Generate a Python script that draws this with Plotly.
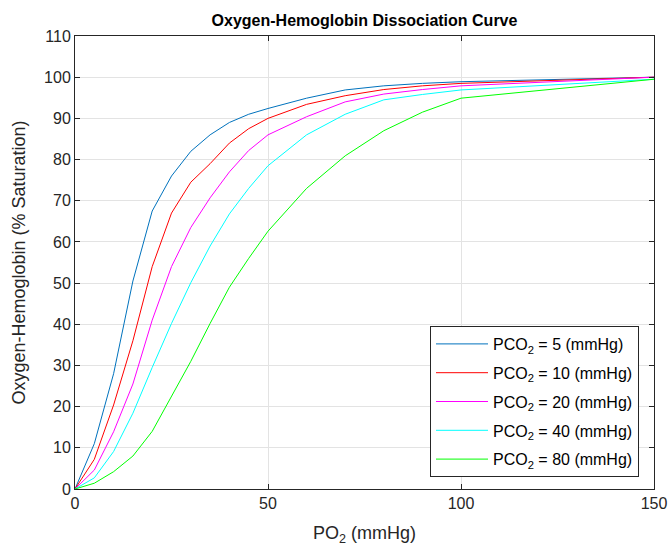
import plotly.graph_objects as go

po2 = [0, 5, 10, 15, 20, 25, 30, 35, 40, 45, 50, 60, 70, 80, 90, 100, 150]

sat_5 = [0, 11, 28, 50.5, 67.5, 76, 82, 86, 89, 91, 92.4, 94.9, 96.9, 97.9, 98.5, 98.9, 100]
sat_10 = [0, 7.2, 20.4, 36, 54, 67, 74.5, 79, 84, 87.5, 90, 93.4, 95.5, 97, 97.9, 98.5, 100]
sat_20 = [0, 4.6, 13.9, 25.5, 41, 54, 63.5, 70.7, 77, 82.2, 86, 90.4, 94, 95.9, 97, 97.9, 100]
sat_40 = [0, 2.7, 9.1, 18.4, 29.5, 40.2, 50.1, 59, 66.8, 73, 78.5, 86, 91, 94.5, 95.8, 96.9, 99.5]
sat_80 = [0, 1.4, 4.2, 8, 14, 22.4, 31, 40.2, 49, 56, 62.6, 73, 80.9, 87, 91.5, 94.9, 99.5]

series = [
    ("PCO<sub>2</sub> = 5 (mmHg)", sat_5, "#0072BD"),
    ("PCO<sub>2</sub> = 10 (mmHg)", sat_10, "#FF0000"),
    ("PCO<sub>2</sub> = 20 (mmHg)", sat_20, "#FF00FF"),
    ("PCO<sub>2</sub> = 40 (mmHg)", sat_40, "#00FFFF"),
    ("PCO<sub>2</sub> = 80 (mmHg)", sat_80, "#00FF00"),
]

x_ticks = [0, 50, 100, 150]
y_ticks = list(range(0, 111, 10))

FONT = "Liberation Sans, Arial"

fig = go.Figure()
for i, (name, vals, col) in enumerate(series):
    fig.add_trace(go.Scatter(x=po2, y=vals, mode="lines", name=name,
                             legendgroup=f"g{i}",
                             line=dict(color=col, width=1)))

axis_common = dict(
    showline=True, linecolor="#262626", linewidth=1, mirror="ticks",
    ticks="inside", ticklen=5, tickcolor="#262626",
    showgrid=True, gridcolor="#e3e3e3", gridwidth=1,
    zeroline=False, automargin=False,
    tickfont=dict(family=FONT, size=16, color="#262626"),
)

fig.update_layout(
    width=669, height=550,
    margin=dict(l=75, r=15, t=36, b=61, autoexpand=False),
    paper_bgcolor="white", plot_bgcolor="white",
    title=dict(text="<b>Oxygen-Hemoglobin Dissociation Curve</b>",
               x=(75 + 654) / 2 / 669, xanchor="center", y=1 - 20 / 550, yanchor="middle",
               font=dict(family=FONT, size=16, color="black"), automargin=False),
    xaxis=dict(range=[0, 150], tickvals=x_ticks,
               title=dict(text="PO<sub>2</sub> (mmHg)", standoff=15,
                          font=dict(family=FONT, size=18, color="#262626")),
               **axis_common),
    yaxis=dict(range=[0, 110], tickvals=y_ticks,
               title=dict(text="Oxygen-Hemoglobin (% Saturation)", standoff=13,
                          font=dict(family=FONT, size=18, color="#262626")),
               **axis_common),
    legend=dict(x=(639 - 75) / 579, xanchor="right", y=(489 - 477) / 453, yanchor="bottom",
                bgcolor="white", bordercolor="#262626", borderwidth=1,
                font=dict(family=FONT, size=16, color="black"),
                itemwidth=52, tracegroupgap=5),
    showlegend=True,
)

fig.write_html("out.html")
